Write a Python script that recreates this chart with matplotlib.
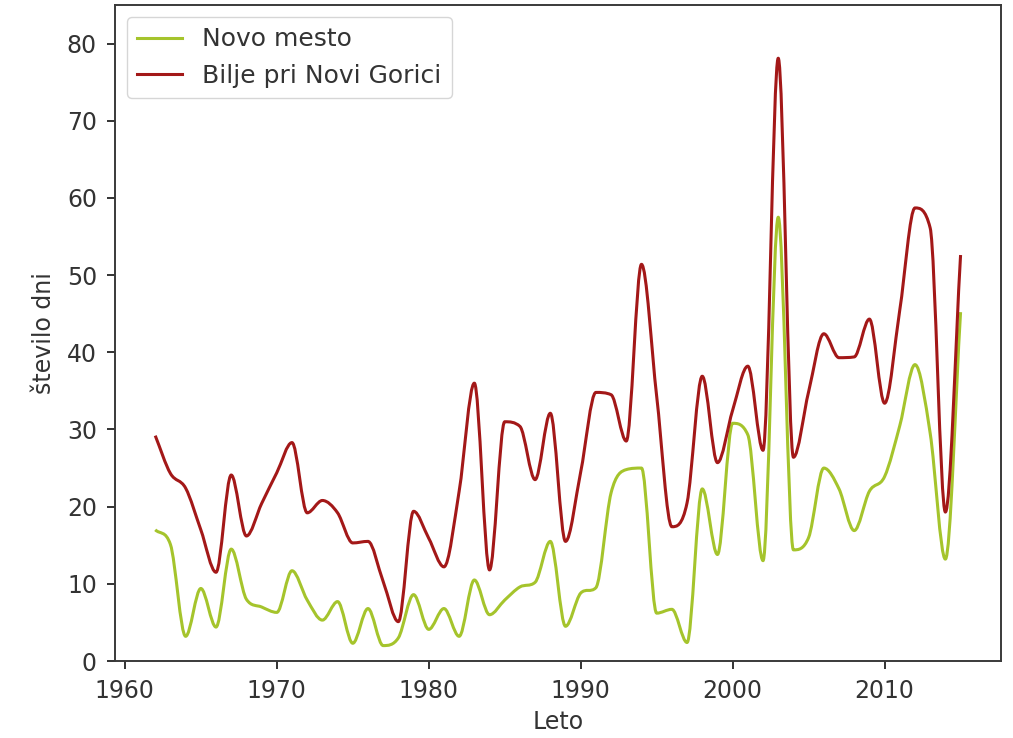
import numpy as np
import matplotlib
matplotlib.use("Agg")
import matplotlib.pyplot as plt
from matplotlib.path import Path
from matplotlib.patches import PathPatch
from matplotlib.lines import Line2D

# Yearly counts of days per station
years = list(range(1962, 2016))

novo_mesto = [
    17.0, 15.1, 3.2, 9.4, 4.4, 14.5, 8.0, 7.0, 6.3, 11.7,
    7.9, 5.3, 7.7, 2.3, 6.8, 2.0, 3.0, 8.6, 4.1, 6.8,
    3.2, 10.5, 6.0, 7.9, 9.6, 10.2, 15.5, 4.5, 8.8, 9.5,
    21.8, 24.8, 25.0, 6.2, 6.7, 2.4, 22.3, 13.8, 30.8, 29.3,
    13.0, 57.5, 14.4, 16.0, 25.0, 22.3, 16.9, 22.0, 23.9, 30.5,
    38.4, 29.5, 13.2, 45.2,
]

bilje = [
    29.2, 24.3, 22.4, 17.0, 11.5, 24.1, 16.2, 20.4, 24.4, 28.3,
    19.2, 20.8, 19.2, 15.3, 15.5, 10.3, 5.1, 19.4, 15.9, 12.2,
    22.0, 36.0, 11.8, 31.0, 30.4, 23.5, 32.1, 15.5, 24.5, 34.8,
    34.5, 28.5, 51.4, 34.3, 17.4, 20.5, 36.9, 25.7, 32.5, 38.2,
    27.3, 78.1, 26.4, 34.9, 42.4, 39.3, 39.4, 44.3, 33.4, 45.5,
    58.7, 56.1, 19.3, 52.6,
]

series_labels = ["Novo mesto", "Bilje pri Novi Gorici"]
series_colors = ["#a5c42c", "#a31818"]
TEXT = "#333333"
FS = 17


def tangents(x, y):
    """Central-difference tangents, flattened at local extrema and limited
    so the curve does not overshoot between neighbouring points."""
    x = np.asarray(x, float)
    y = np.asarray(y, float)
    d = np.diff(y) / np.diff(x)
    m = np.gradient(y, x)
    for i in range(1, len(x) - 1):
        if d[i - 1] * d[i] <= 0:
            m[i] = 0.0
        else:
            lim = 3.0 * min(abs(d[i - 1]), abs(d[i]))
            m[i] = np.sign(m[i]) * min(abs(m[i]), lim)
    return m


def smooth_path(x, y):
    """Cubic Bezier path passing through every data point."""
    x = np.asarray(x, float)
    y = np.asarray(y, float)
    m = tangents(x, y)
    verts = [(x[0], y[0])]
    codes = [Path.MOVETO]
    for i in range(len(x) - 1):
        h = (x[i + 1] - x[i]) / 3.0
        verts += [(x[i] + h, y[i] + m[i] * h),
                  (x[i + 1] - h, y[i + 1] - m[i + 1] * h),
                  (x[i + 1], y[i + 1])]
        codes += [Path.CURVE4] * 3
    return Path(verts, codes)


plt.rcParams["font.family"] = ["DejaVu Sans"]

fig = plt.figure(figsize=(10.13, 7.38), dpi=100)
ax = fig.add_axes([0.1135, 0.1043, 0.8745, 0.889])

handles = []
for values, label, color in zip([novo_mesto, bilje], series_labels, series_colors):
    patch = PathPatch(smooth_path(years, values), fill=False, edgecolor=color,
                      linewidth=2.2, joinstyle="round", capstyle="butt")
    ax.add_patch(patch)
    handles.append(Line2D([], [], color=color, linewidth=2.2, label=label))

ax.set_xlim(1959.35, 2017.65)
ax.set_ylim(0, 85)
ax.set_xticks(range(1960, 2011, 10))
ax.set_yticks(range(0, 81, 10))

ax.tick_params(labelsize=FS, colors=TEXT, length=6, width=1.4, pad=7)
for spine in ax.spines.values():
    spine.set_linewidth(1.4)
    spine.set_color("#3a3a3a")

ax.set_xlabel("Leto", fontsize=FS, color=TEXT, labelpad=5)
ax.set_ylabel("število dni", fontsize=FS, color=TEXT, labelpad=8)

leg = ax.legend(handles=handles, loc="upper left", fontsize=18,
                frameon=True, borderaxespad=0.5, handlelength=1.8)
for t in leg.get_texts():
    t.set_color(TEXT)

fig.savefig("out.png", dpi=100)
